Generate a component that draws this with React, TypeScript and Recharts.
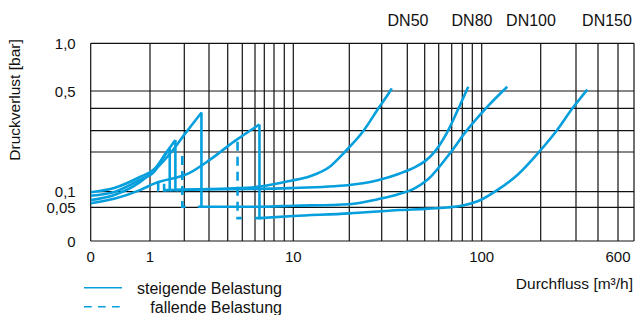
import React from 'react';
import { LineChart, Line, XAxis, YAxis, CartesianGrid } from 'recharts';

type Pt = [number, number]; // [Durchfluss m³/h, Druckverlust bar]

// The nomogram axes are neither linear nor log, so each grid value gets its
// own place (px from the frame's left / bottom edge) and values between grid
// lines are interpolated (log between decades on x).
const X_GRID = [0, 1, 2, 3, 4, 5, 6, 7, 8, 9, 10, 20, 30, 40, 50, 60, 70, 80, 90, 100, 200, 300, 400, 600, 800];
const X_GRID_POS = [0, 59.3, 93.6, 118.3, 137, 151.6, 164.3, 173.6, 183.3, 193.6, 202.6, 258.6, 291, 316.6, 334, 348, 361, 371.6, 381.6, 391, 450, 485.3, 507.3, 527.3, 543.3];
const X_LABELS: Record<number, string> = { 0: '0', 1: '1', 10: '10', 100: '100', 600: '600' };

const Y_GRID = [0, 0.05, 0.1, 0.2, 0.3, 0.4, 0.5, 1.0];
const Y_GRID_POS = [0, 33.7, 49.3, 89, 110.3, 132.7, 150, 197.7];
const Y_LABELS: Record<number, string> = { 0: '0', 0.05: '0,05', 0.1: '0,1', 0.5: '0,5', 1: '1,0' };

const DN_LABELS = ['DN50', 'DN80', 'DN100', 'DN150'];
const LEGEND_LABELS = ['steigende Belastung', 'fallende Belastung'];

// steigende Belastung: rise up to opening, drop, then the flow curve
const DN50_RISE: Pt[] = [[0, 0.087], [0.41, 0.1], [0.83, 0.13], [1.1, 0.152], [1.3, 0.185], [1.49, 0.217]];
const DN50_DROP: Pt[] = [[1.49, 0.217], [1.49, 0.104], [1.35, 0.104]];
const DN50_TAIL: Pt[] = [[1.49, 0.104], [2.5, 0.106], [4, 0.108], [6.5, 0.113], [9.6, 0.127], [12.3, 0.139], [15.7, 0.163], [18.9, 0.2], [23.9, 0.3], [28.8, 0.4], [33, 0.5], [33.6, 0.528]];

const DN80_RISE: Pt[] = [[0, 0.098], [0.41, 0.11], [0.83, 0.137], [1.1, 0.158], [1.4, 0.2], [1.67, 0.256]];
const DN80_DROP: Pt[] = [[1.67, 0.256], [1.67, 0.104]];
const DN80_TAIL: Pt[] = [[1.67, 0.104], [3, 0.106], [6.5, 0.107], [9.6, 0.109], [20, 0.117], [28.6, 0.129], [36.8, 0.146], [44.2, 0.162], [50.2, 0.177], [57, 0.202], [66, 0.289], [75.5, 0.392], [85.8, 0.545]];

const DN100_RISE: Pt[] = [[0, 0.073], [0.41, 0.09], [0.83, 0.124], [1.2, 0.165], [1.54, 0.2], [2.02, 0.285], [2.65, 0.381]];
const DN100_DROP: Pt[] = [[2.65, 0.381], [2.65, 0.052], [2.5, 0.052]];
const DN100_TAIL: Pt[] = [[2.65, 0.052], [6.5, 0.052], [10, 0.055], [20, 0.06], [28.6, 0.076], [34.8, 0.089], [44.2, 0.109], [52.4, 0.132], [68.6, 0.197], [84, 0.299], [105, 0.4], [135, 0.545]];

const DN150_RISE: Pt[] = [[0, 0.063], [0.41, 0.078], [0.83, 0.104], [1.1, 0.121], [2.2, 0.148], [3.03, 0.18], [4.47, 0.252], [6.46, 0.328]];
const DN150_DROP: Pt[] = [[6.46, 0.328], [6.46, 0.034], [6.0, 0.034]];
const DN150_TAIL: Pt[] = [[6.46, 0.034], [10, 0.037], [20, 0.041], [36.8, 0.046], [52.4, 0.048], [79.4, 0.055], [96.3, 0.07], [120, 0.104], [152, 0.142], [196, 0.2], [240, 0.3], [288, 0.4], [348, 0.515]];

// fallende Belastung: closing jump
const DN50_FALL: Pt[] = [[1.18, 0.125], [1.18, 0.103], [1.3, 0.103]];
const DN80_FALL: Pt[] = [[1.33, 0.12], [1.33, 0.103], [1.43, 0.103]];
const DN100_FALL: Pt[] = [[1.92, 0.19], [1.92, 0.052], [2.06, 0.052]];
const DN150_FALL: Pt[] = [[4.65, 0.248], [4.65, 0.034], [4.95, 0.034]];

const SERIES: { id: string; pts: Pt[]; smooth: boolean; dashed: boolean }[] = [
  { id: 'dn50-rise', pts: DN50_RISE, smooth: true, dashed: false },
  { id: 'dn50-drop', pts: DN50_DROP, smooth: false, dashed: false },
  { id: 'dn50-tail', pts: DN50_TAIL, smooth: true, dashed: false },
  { id: 'dn80-rise', pts: DN80_RISE, smooth: true, dashed: false },
  { id: 'dn80-drop', pts: DN80_DROP, smooth: false, dashed: false },
  { id: 'dn80-tail', pts: DN80_TAIL, smooth: true, dashed: false },
  { id: 'dn100-rise', pts: DN100_RISE, smooth: true, dashed: false },
  { id: 'dn100-drop', pts: DN100_DROP, smooth: false, dashed: false },
  { id: 'dn100-tail', pts: DN100_TAIL, smooth: true, dashed: false },
  { id: 'dn150-rise', pts: DN150_RISE, smooth: true, dashed: false },
  { id: 'dn150-drop', pts: DN150_DROP, smooth: false, dashed: false },
  { id: 'dn150-tail', pts: DN150_TAIL, smooth: true, dashed: false },
  { id: 'dn50-fall', pts: DN50_FALL, smooth: false, dashed: true },
  { id: 'dn80-fall', pts: DN80_FALL, smooth: false, dashed: true },
  { id: 'dn100-fall', pts: DN100_FALL, smooth: false, dashed: true },
  { id: 'dn150-fall', pts: DN150_FALL, smooth: false, dashed: true },
];

const BLUE = '#069fdd';
const FONT = '"Liberation Sans", Arial, sans-serif';
const W = 636;
const H = 315;
const PLOT_LEFT = 90.7;
const PLOT_TOP = 43.3;
const PLOT_BOTTOM = 241;
const PLOT_RIGHT = 634;

function interp(v: number, grid: number[], pos: number[], logScale: boolean) {
  for (let i = 0; i < grid.length - 1; i++) {
    const a = grid[i];
    const b = grid[i + 1];
    if (v <= b || i === grid.length - 2) {
      const t = logScale && a > 0 ? Math.log(v / a) / Math.log(b / a) : (v - a) / (b - a);
      return pos[i] + t * (pos[i + 1] - pos[i]);
    }
  }
  return 0;
}
const tx = (q: number) => interp(q, X_GRID, X_GRID_POS, true);
const ty = (p: number) => interp(p, Y_GRID, Y_GRID_POS, false);

const XTick = (props: any) => {
  const i = X_GRID_POS.findIndex((p) => Math.abs(p - props.payload.value) < 0.01);
  const label = X_LABELS[X_GRID[i]];
  if (!label) return <g />;
  return (
    <text x={props.x} y={PLOT_BOTTOM + 21} textAnchor="middle" fontSize={15} fontFamily={FONT} fill="#111">
      {label}
    </text>
  );
};

const YTick = (props: any) => {
  const i = Y_GRID_POS.findIndex((p) => Math.abs(p - props.payload.value) < 0.01);
  const label = Y_LABELS[Y_GRID[i]];
  if (!label) return <g />;
  return (
    <text x={PLOT_LEFT - 15} y={props.y + 5.5} textAnchor="end" fontSize={15} fontFamily={FONT} fill="#111">
      {label}
    </text>
  );
};

export default function App() {
  const dnX = [408, 472, 531, 607];
  return (
    <div style={{ position: 'fixed', left: 0, top: 0, width: W, height: H, background: '#fff' }}>
      <LineChart
        width={W}
        height={H}
        margin={{ top: PLOT_TOP, right: W - PLOT_RIGHT, bottom: H - PLOT_BOTTOM - 30, left: PLOT_LEFT - 60 }}
      >
        <CartesianGrid stroke="#111" strokeWidth={1.2} />
        <XAxis
          type="number"
          dataKey="x"
          domain={[0, X_GRID_POS[X_GRID_POS.length - 1]]}
          ticks={X_GRID.map(tx)}
          interval={0}
          allowDataOverflow
          axisLine={false}
          tickLine={false}
          height={30}
          tick={<XTick />}
        />
        <YAxis
          type="number"
          dataKey="y"
          domain={[0, Y_GRID_POS[Y_GRID_POS.length - 1]]}
          ticks={Y_GRID.map(ty)}
          interval={0}
          allowDataOverflow
          axisLine={false}
          tickLine={false}
          width={60}
          tick={<YTick />}
        />
        {SERIES.map((s) => (
          <Line
            key={s.id}
            data={s.pts.map(([q, p]) => ({ x: tx(q), y: ty(p) }))}
            dataKey="y"
            type={s.smooth ? 'monotone' : 'linear'}
            stroke={BLUE}
            strokeWidth={2.6}
            strokeDasharray={s.dashed ? '9 6' : undefined}
            dot={false}
            activeDot={false}
            isAnimationActive={false}
          />
        ))}
      </LineChart>
      <svg
        width={W}
        height={H}
        style={{ position: 'absolute', left: 0, top: 0, pointerEvents: 'none' }}
        fontFamily={FONT}
        fill="#111"
      >
        {DN_LABELS.map((d, i) => (
          <text key={d} x={dnX[i]} y={26} textAnchor="middle" fontSize={16}>
            {d}
          </text>
        ))}
        <text x={20} y={100} textAnchor="middle" fontSize={15.5} transform="rotate(-90 20 100)">
          Druckverlust [bar]
        </text>
        <text x={633} y={289} textAnchor="end" fontSize={15.5}>
          Durchfluss [m³/h]
        </text>
        <line x1={84} x2={122} y1={287.7} y2={287.7} stroke={BLUE} strokeWidth={1.6} />
        <text x={282} y={293.5} textAnchor="end" fontSize={16}>
          {LEGEND_LABELS[0]}
        </text>
        <line x1={84} x2={122} y1={306.7} y2={306.7} stroke={BLUE} strokeWidth={1.6} strokeDasharray="7.7 6.3" />
        <text x={282} y={312.5} textAnchor="end" fontSize={16}>
          {LEGEND_LABELS[1]}
        </text>
      </svg>
    </div>
  );
}
